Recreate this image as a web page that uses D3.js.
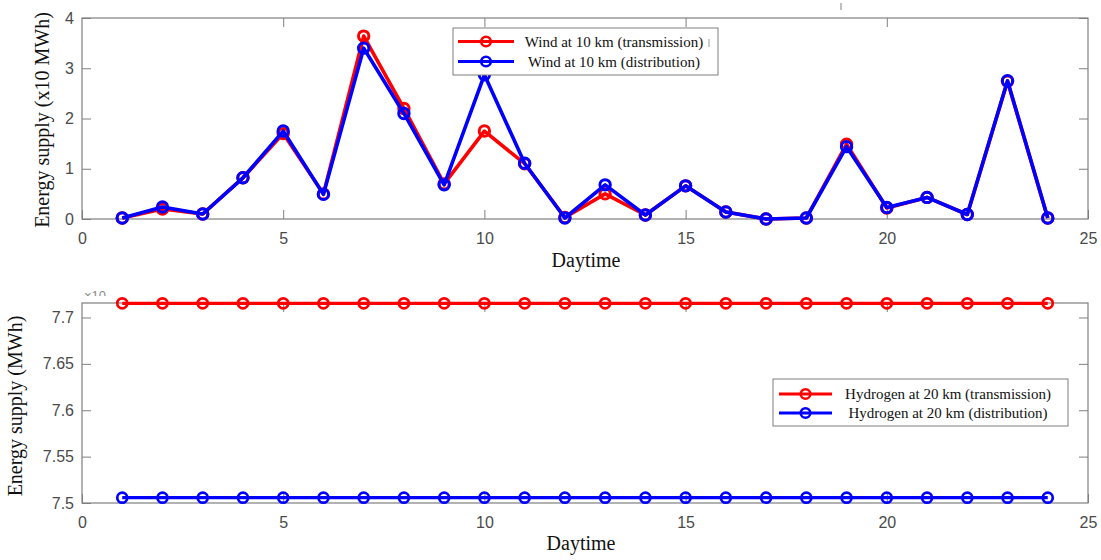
<!DOCTYPE html>
<html>
<head>
<meta charset="utf-8">
<script src="https://cdn.jsdelivr.net/npm/d3@7"></script>
<style>
  html, body { margin: 0; padding: 0; background: #fff; }
  svg { display: block; }
  .tick text { font-family: "Liberation Sans", Arial, sans-serif; font-size: 16px; fill: #4a4a4a; }
  .tick line { stroke: #7f7f7f; stroke-width: 1; }
  .axis-title { font-family: "Liberation Serif", "Times New Roman", serif; font-size: 20px; fill: #111; }
  .legend-text { font-family: "Liberation Serif", "Times New Roman", serif; font-size: 15px; fill: #111; }
</style>
</head>
<body>
<svg id="chart" width="1101" height="560"></svg>
<script>
// Hour of the day
const hours = [1, 2, 3, 4, 5, 6, 7, 8, 9, 10, 11, 12, 13, 14, 15, 16, 17, 18, 19, 20, 21, 22, 23, 24];

// Wind supply at 10 km (x10 MWh)
const windTransmission = [0.02, 0.20, 0.10, 0.82, 1.70, 0.50, 3.64, 2.20, 0.70, 1.75, 1.10, 0.03, 0.50, 0.08, 0.66, 0.14, 0.00, 0.02, 1.49, 0.22, 0.43, 0.09, 2.74, 0.02];
const windDistribution = [0.02, 0.24, 0.10, 0.82, 1.75, 0.49, 3.40, 2.10, 0.68, 2.87, 1.11, 0.02, 0.68, 0.08, 0.66, 0.14, 0.00, 0.02, 1.44, 0.23, 0.43, 0.09, 2.75, 0.02];

// Hydrogen supply at 20 km (MWh)
const hydrogenTransmission = [7.7153, 7.7153, 7.7153, 7.7153, 7.7153, 7.7153, 7.7153, 7.7153, 7.7153, 7.7153, 7.7153, 7.7153, 7.7153, 7.7153, 7.7153, 7.7153, 7.7153, 7.7153, 7.7153, 7.7153, 7.7153, 7.7153, 7.7153, 7.7153];
const hydrogenDistribution = [7.5057, 7.5057, 7.5057, 7.5057, 7.5057, 7.5057, 7.5057, 7.5057, 7.5057, 7.5057, 7.5057, 7.5057, 7.5057, 7.5057, 7.5057, 7.5057, 7.5057, 7.5057, 7.5057, 7.5057, 7.5057, 7.5057, 7.5057, 7.5057];

// Axis ticks and labels
const xTicks = [0, 5, 10, 15, 20, 25];
const windYTicks = [0, 1, 2, 3, 4];
const hydrogenYTicks = [7.5, 7.55, 7.6, 7.65, 7.7];
const windLabels = ["Wind at 10 km (transmission)", "Wind at 10 km (distribution)"];
const hydrogenLabels = ["Hydrogen at 20 km (transmission)", "Hydrogen at 20 km (distribution)"];
const xTitle = "Daytime";
const windYTitle = "Energy supply (x10 MWh)";
const hydrogenYTitle = "Energy supply (MWh)";

const RED = "#ff0000", BLUE = "#0000ff", AXIS = "#7f7f7f";
const svg = d3.select("#chart");

function drawPanel(cfg) {
  const { left, right, top, bottom } = cfg.box;
  const x = d3.scaleLinear().domain([0, 25]).range([left, right]);
  const y = d3.scaleLinear().domain(cfg.yDomain).range([bottom, top]);
  const g = svg.append("g");

  // bottom axis with labels, ticks pointing inward
  g.append("g").attr("transform", `translate(0,${bottom})`)
    .call(d3.axisBottom(x).tickValues(xTicks).tickSize(-9).tickSizeOuter(0).tickPadding(14).tickFormat(d3.format("d")))
    .call(a => a.select(".domain").remove());
  // left axis with labels
  g.append("g").attr("transform", `translate(${left},0)`)
    .call(d3.axisLeft(y).tickValues(cfg.yTicks).tickSize(-9).tickSizeOuter(0).tickPadding(8).tickFormat(cfg.yFormat))
    .call(a => a.select(".domain").remove());
  // mirrored ticks on top and right
  g.append("g").attr("transform", `translate(0,${top})`)
    .call(d3.axisTop(x).tickValues(xTicks.filter(v => v > 0 && v < 25)).tickSize(-9).tickSizeOuter(0).tickFormat(""))
    .call(a => a.select(".domain").remove());
  g.append("g").attr("transform", `translate(${right},0)`)
    .call(d3.axisRight(y).tickValues(cfg.yTicks.filter(v => y(v) < bottom - 1)).tickSize(-9).tickSizeOuter(0).tickFormat(""))
    .call(a => a.select(".domain").remove());

  // axes box
  g.append("rect").attr("x", left).attr("y", top)
    .attr("width", right - left).attr("height", bottom - top)
    .attr("fill", "none").attr("stroke", AXIS).attr("stroke-width", 1.2);

  // series
  const line = d3.line().x((d, i) => x(hours[i])).y(d => y(d));
  cfg.series.forEach(s => {
    g.append("path").datum(s.values).attr("d", line)
      .attr("fill", "none").attr("stroke", s.color).attr("stroke-width", cfg.lineWidth)
      .attr("stroke-linejoin", "round");
    g.selectAll(null).data(s.values).enter().append("circle")
      .attr("cx", (d, i) => x(hours[i])).attr("cy", d => y(d)).attr("r", cfg.markerR)
      .attr("fill", "none").attr("stroke", s.color).attr("stroke-width", cfg.markerW);
  });

  // axis titles
  g.append("text").attr("class", "axis-title")
    .attr("x", cfg.xTitlePos[0]).attr("y", cfg.xTitlePos[1])
    .attr("text-anchor", "middle").text(xTitle);
  g.append("text").attr("class", "axis-title")
    .attr("transform", `translate(${cfg.yTitlePos[0]},${cfg.yTitlePos[1]}) rotate(-90)`)
    .attr("text-anchor", "middle").text(cfg.yTitle);

  // legend
  const L = cfg.legend;
  const lg = g.append("g");
  lg.append("rect").attr("x", L.x).attr("y", L.y).attr("width", L.w).attr("height", L.h)
    .attr("fill", "#fff").attr("stroke", AXIS).attr("stroke-width", 1);
  cfg.series.forEach((s, i) => {
    const cy = L.y + L.row0 + i * L.rowGap;
    lg.append("line").attr("x1", L.x + L.sym0).attr("x2", L.x + L.sym1)
      .attr("y1", cy).attr("y2", cy).attr("stroke", s.color).attr("stroke-width", 3.2);
    lg.append("circle").attr("cx", L.x + (L.sym0 + L.sym1) / 2).attr("cy", cy).attr("r", 4.8)
      .attr("fill", "none").attr("stroke", s.color).attr("stroke-width", 2.6);
    lg.append("text").attr("class", "legend-text")
      .attr("x", L.x + L.textC).attr("y", cy + 5).attr("text-anchor", "middle").text(s.label);
  });
  return g;
}

drawPanel({
  box: { left: 82, right: 1088, top: 18, bottom: 219 },
  yDomain: [0, 4], yTicks: windYTicks, yFormat: d3.format("d"),
  lineWidth: 3.6, markerR: 5.2, markerW: 3,
  series: [
    { values: windTransmission, color: RED, label: windLabels[0] },
    { values: windDistribution, color: BLUE, label: windLabels[1] }
  ],
  xTitlePos: [586, 267], yTitlePos: [48.5, 120], yTitle: windYTitle,
  legend: { x: 453, y: 28, w: 265, h: 47, row0: 13.5, rowGap: 20, sym0: 5, sym1: 61, textC: 161 }
});

drawPanel({
  box: { left: 82, right: 1088, top: 303, bottom: 503 },
  yDomain: [7.5, 7.7156], yTicks: hydrogenYTicks, yFormat: d => d3.format("")(+d.toFixed(2)),
  lineWidth: 3.2, markerR: 5, markerW: 2.7,
  series: [
    { values: hydrogenTransmission, color: RED, label: hydrogenLabels[0] },
    { values: hydrogenDistribution, color: BLUE, label: hydrogenLabels[1] }
  ],
  xTitlePos: [581, 550], yTitlePos: [22, 406], yTitle: hydrogenYTitle,
  legend: { x: 773, y: 379, w: 295, h: 47, row0: 15, rowGap: 19, sym0: 6, sym1: 59, textC: 175 }
});

// small cut-off exponent marker above the lower axes
const clip = svg.append("clipPath").attr("id", "expClip");
clip.append("rect").attr("x", 80).attr("y", 284).attr("width", 40).attr("height", 12);
svg.append("text").attr("clip-path", "url(#expClip)")
  .attr("x", 84).attr("y", 300)
  .attr("font-family", "Liberation Sans, Arial, sans-serif").attr("font-size", 13)
  .attr("fill", "#8a8a8a").text("\u00d710");

// stray tick marks near the top edge and inside the upper legend
svg.append("line").attr("x1", 841).attr("x2", 841).attr("y1", 3).attr("y2", 10)
  .attr("stroke", AXIS).attr("stroke-width", 1);
svg.append("line").attr("x1", 709).attr("x2", 709).attr("y1", 39).attr("y2", 47)
  .attr("stroke", "#999").attr("stroke-width", 1);
</script>
</body>
</html>
